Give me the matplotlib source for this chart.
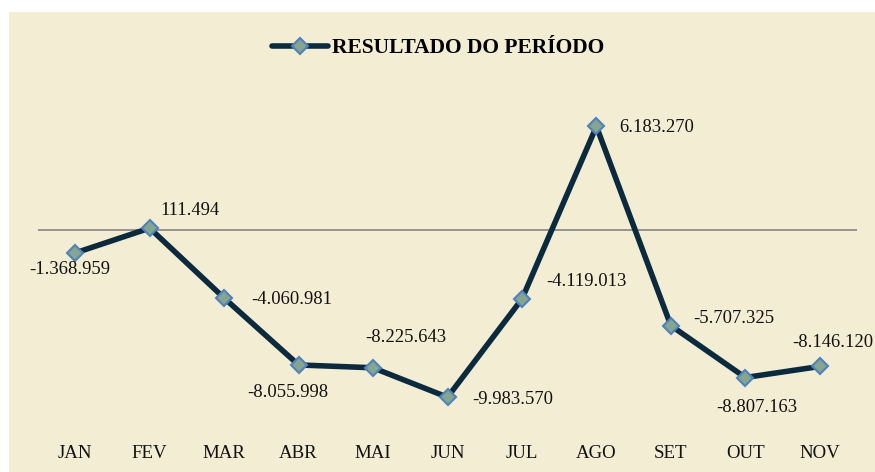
import matplotlib.pyplot as plt
from matplotlib.patches import Rectangle

meses = ['JAN', 'FEV', 'MAR', 'ABR', 'MAI', 'JUN', 'JUL', 'AGO', 'SET', 'OUT', 'NOV']
resultado = [-1368959, 111494, -4060981, -8055998, -8225643, -9983570,
             -4119013, 6183270, -5707325, -8807163, -8146120]
rotulos = ['-1.368.959', '111.494', '-4.060.981', '-8.055.998', '-8.225.643', '-9.983.570',
           '-4.119.013', '6.183.270', '-5.707.325', '-8.807.163', '-8.146.120']
# deslocamento dos rotulos em pixels (dx, dy)
offsets = [(-5, -17), (40, 18), (68, -1), (-11, -28), (33, 30), (65, -2),
           (64, 17), (60, -1), (63, 7), (11, -30), (13, 24)]

FUNDO = '#F3EDD3'
LINHA = '#0C2A3E'

plt.rcParams['font.family'] = ['Liberation Serif', 'DejaVu Serif']

fig = plt.figure(figsize=(8.75, 4.72), dpi=100)
fig.patch.set_facecolor('white')
fig.patches.append(Rectangle((9 / 875, 0), 1, 1 - 12 / 472, transform=fig.transFigure,
                             facecolor=FUNDO, edgecolor='none', zorder=-10))

ax = fig.add_axes([38 / 875, 41 / 472, (857 - 38) / 875, (431 - 96) / 472])
ax.set_facecolor('none')
x = list(range(len(meses)))
ax.set_xlim(-0.5, len(meses) - 0.5)
ax.set_ylim(-12e6, 8e6)
ax.axhline(0, color='#8C8C8C', lw=1.3, zorder=1)

linha, = ax.plot(x, resultado, color=LINHA, lw=4, marker='D', markersize=8.5,
                 markerfacecolor='#84A58F', markeredgecolor='#4F81BD', markeredgewidth=1.5,
                 solid_capstyle='round', zorder=3, label='RESULTADO DO PERÍODO')

for xi, yi, txt, (dx, dy) in zip(x, resultado, rotulos, offsets):
    ax.annotate(txt, (xi, yi), xytext=(dx * 0.72, dy * 0.72), textcoords='offset points',
                ha='center', va='center', fontsize=13.4, color='#111111')

ax.set_xticks(x)
ax.set_xticklabels(meses, fontsize=13.6, color='#111111')
ax.tick_params(axis='x', length=0, pad=10)
ax.set_yticks([])
for s in ax.spines.values():
    s.set_visible(False)

leg = fig.legend(handles=[linha], loc='center', bbox_to_anchor=(0.501, 1 - 48 / 472),
                 frameon=False, prop={'weight': 'bold', 'size': 15.5},
                 handlelength=2.6, handletextpad=0.2)

fig.savefig('out.png', dpi=100, facecolor=fig.get_facecolor())
